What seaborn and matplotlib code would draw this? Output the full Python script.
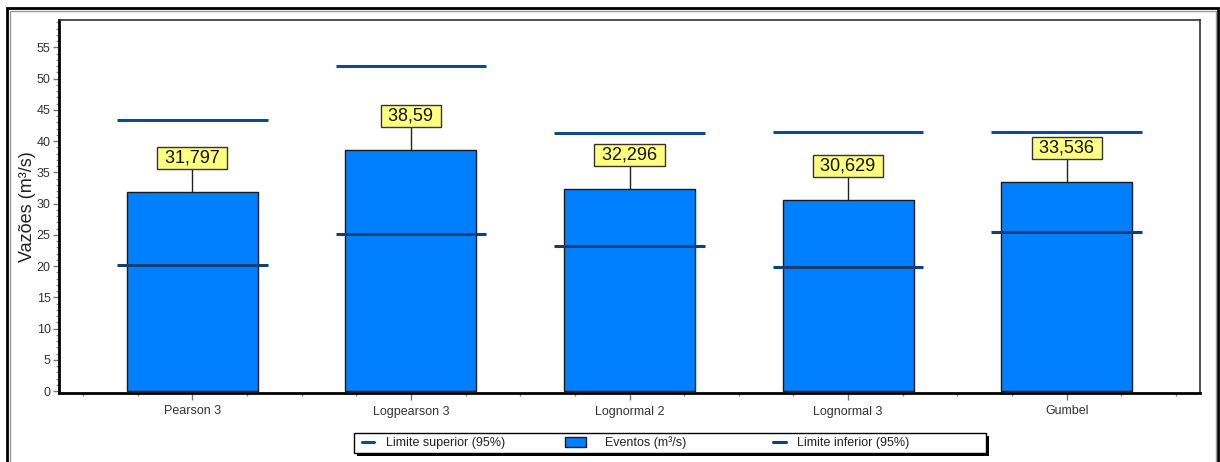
import matplotlib
matplotlib.use("Agg")
import matplotlib.pyplot as plt
from matplotlib.patches import Rectangle, Patch
from matplotlib.lines import Line2D
from matplotlib.ticker import MultipleLocator, FixedLocator
import seaborn as sns
import pandas as pd

# ---- data ----
categories = ["Pearson 3", "Logpearson 3", "Lognormal 2", "Lognormal 3", "Gumbel"]
eventos = [31.797, 38.59, 32.296, 30.629, 33.536]
limite_superior = [43.4, 52.0, 41.3, 41.5, 41.5]
limite_inferior = [20.2, 25.1, 23.2, 19.8, 25.4]
value_labels = ["31,797", "38,59", "32,296", "30,629", "33,536"]
legend_labels = ["Limite superior (95%)", "Eventos (m³/s)", "Limite inferior (95%)"]

sns.set_theme(style="white")
plt.rcParams["font.family"] = ["Liberation Sans", "DejaVu Sans"]

W, H = 1220, 462
fig = plt.figure(figsize=(W / 100, H / 100), dpi=100)
ax = fig.add_axes([59 / W, 1 - 393 / H, (1200 - 59) / W, (393 - 20) / H])

bar_col = "#0080FF"
up_col = "#0E4A8E"
lo_col = "#123F75"

df = pd.DataFrame({"Distribuição": categories, "Eventos": eventos})
sns.barplot(data=df, x="Distribuição", y="Eventos", color=bar_col,
            saturation=1, edgecolor="#1a1a1a", linewidth=1.0, width=0.6, ax=ax)

half = 0.345
for i, (up, lo) in enumerate(zip(limite_superior, limite_inferior)):
    ax.hlines(up, i - half, i + half, color=up_col, lw=2.2, zorder=3)
    ax.hlines(lo, i - half, i + half, color=lo_col, lw=2.2, zorder=3)

# value callouts
for i, (v, lab) in enumerate(zip(eventos, value_labels)):
    ax.plot([i, i], [v, v + 3.7], color="#222222", lw=1.0, zorder=3)
    ax.text(i, v + 5.45, " " + lab + " ", ha="center", va="center", fontsize=13,
            color="#111111", zorder=5,
            bbox=dict(boxstyle="square,pad=0.14", fc="#FFFF80", ec="#333333", lw=1.0))

ax.set_xlim(-0.61, 4.61)
ax.set_ylim(-0.3, 59.4)
ax.set_yticks(range(0, 56, 5))
ax.yaxis.set_minor_locator(MultipleLocator(1))
ax.xaxis.set_minor_locator(FixedLocator([k * 0.25 for k in range(-2, 19) if k % 4 != 0]))

ax.set_xlabel("")
ax.set_ylabel("Vazões (m³/s)", fontsize=13, color="#222222")
ax.yaxis.set_label_coords(-(59 - 36) / (1200 - 59), 0.5)

ax.tick_params(axis="both", which="major", direction="out", length=4, width=1,
               color="#777777", labelsize=9, labelcolor="#333333", pad=2,
               left=True, bottom=True)
ax.tick_params(axis="both", which="minor", direction="out", length=2.5, width=1,
               color="#888888", left=True, bottom=True)
ax.tick_params(axis="x", which="major", length=5, pad=4)

for side in ["left", "bottom"]:
    ax.spines[side].set_color("black")
    ax.spines[side].set_linewidth(2.0)
for side in ["top", "right"]:
    ax.spines[side].set_color("#333333")
    ax.spines[side].set_linewidth(1.2)
    ax.spines[side].set_visible(True)

# legend: frame with solid black shadow, three equally spaced entries
fig.patches.append(Rectangle((357 / W, 1 - 456 / H), 632 / W, 20 / H,
                             transform=fig.transFigure, fc="black", ec="black", lw=0))
fig.patches.append(Rectangle((354 / W, 1 - 453 / H), 632 / W, 20 / H,
                             transform=fig.transFigure, fc="white", ec="black", lw=1.0))
entries = [
    (Line2D([0], [0], color=up_col, lw=2.2), legend_labels[0], 362, 1.0, 0.95),
    (Patch(facecolor=bar_col, edgecolor="#1a1a1a", linewidth=1.0), legend_labels[1], 565, 1.7, 1.5),
    (Line2D([0], [0], color=lo_col, lw=2.2), legend_labels[2], 773, 1.0, 0.95),
]
for h, lab, xpx, hl, htp in entries:
    lg = fig.legend([h], [lab], loc="center left",
                    bbox_to_anchor=(xpx / W, 1 - 443 / H), fontsize=9,
                    frameon=False, borderpad=0, borderaxespad=0,
                    handlelength=hl, handleheight=0.8, handletextpad=htp)
    for t in lg.get_texts():
        t.set_color("#222222")

# outer frame
fig.patches.append(Rectangle((7 / W, -0.02), 1211 / W, 1 - 8 / H + 0.02,
                             transform=fig.transFigure, fill=False,
                             ec="black", lw=2.0))
fig.patches.append(Rectangle((9.5 / W, -0.02), 1206 / W, 1 - 10.5 / H + 0.02,
                             transform=fig.transFigure, fill=False,
                             ec="#9a9a9a", lw=1.0))

fig.savefig("out.png", dpi=100, facecolor="white")
